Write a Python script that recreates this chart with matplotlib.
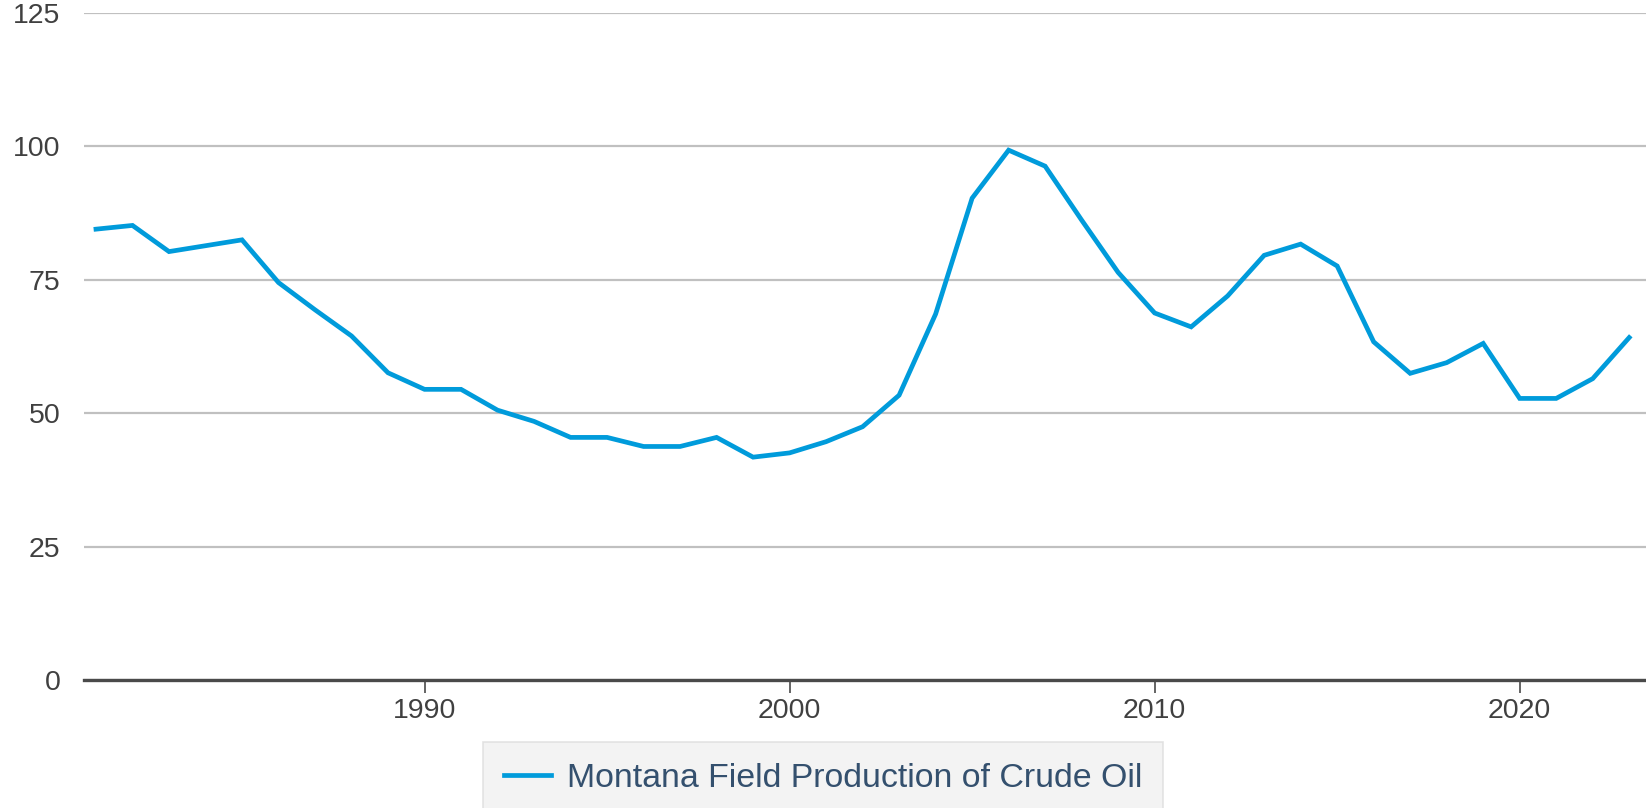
import matplotlib.pyplot as plt

plt.rcParams['font.family'] = ['Liberation Sans', 'DejaVu Sans']

# 数据
years = list(range(1981, 2024))
production = [84.5, 85.2, 80.3, 81.4, 82.5, 74.5, 69.4, 64.5, 57.6, 54.5,
              54.5, 50.6, 48.5, 45.5, 45.5, 43.8, 43.8, 45.5, 41.8, 42.6,
              44.7, 47.5, 53.4, 68.6, 90.3, 99.3, 96.3, 86.2, 76.4, 68.8,
              66.2, 72.0, 79.6, 81.7, 77.6, 63.4, 57.5, 59.5, 63.1, 52.8,
              52.8, 56.5, 64.2]
series_label = 'Montana Field Production of Crude Oil'
y_ticks = [0, 25, 50, 75, 100, 125]
x_ticks = [1990, 2000, 2010, 2020]

fig = plt.figure(figsize=(16.46, 8.08), dpi=100)
ax = fig.add_axes([0.051, 0.158, 0.949, 0.826])

line, = ax.plot(years, production, color='#009bdb', linewidth=3.4,
                solid_joinstyle='miter', label=series_label)

ax.set_xlim(1980.67, 2023.46)
ax.set_ylim(0, 125)
ax.set_yticks(y_ticks)
ax.set_xticks(x_ticks)

# 网格线
ax.grid(True, axis='y', color='#c0c0c0', linewidth=1.6)
ax.set_axisbelow(True)

for side in ['top', 'right', 'left']:
    ax.spines[side].set_visible(False)
ax.spines['bottom'].set_color('#4a4a4a')
ax.spines['bottom'].set_linewidth(2.4)

ax.tick_params(axis='y', length=0, pad=17, labelsize=20.5, labelcolor='#404040')
ax.tick_params(axis='x', length=9, width=1.2, color='#4a4a4a', pad=4,
               labelsize=20.5, labelcolor='#404040')

# 图例（底部略微超出画布）
leg = fig.legend(handles=[line], loc='lower center', bbox_to_anchor=(0.5, -0.009),
                 borderaxespad=0, fontsize=24.4, fancybox=False,
                 frameon=True, handlelength=1.4, handletextpad=0.45,
                 borderpad=0.62)
leg.get_frame().set_facecolor('#f0f0f0')
leg.get_frame().set_edgecolor('#dddddd')
leg.get_frame().set_linewidth(1.2)
for t in leg.get_texts():
    t.set_color('#34506e')

plt.savefig('out.png', dpi=100)
plt.close()
